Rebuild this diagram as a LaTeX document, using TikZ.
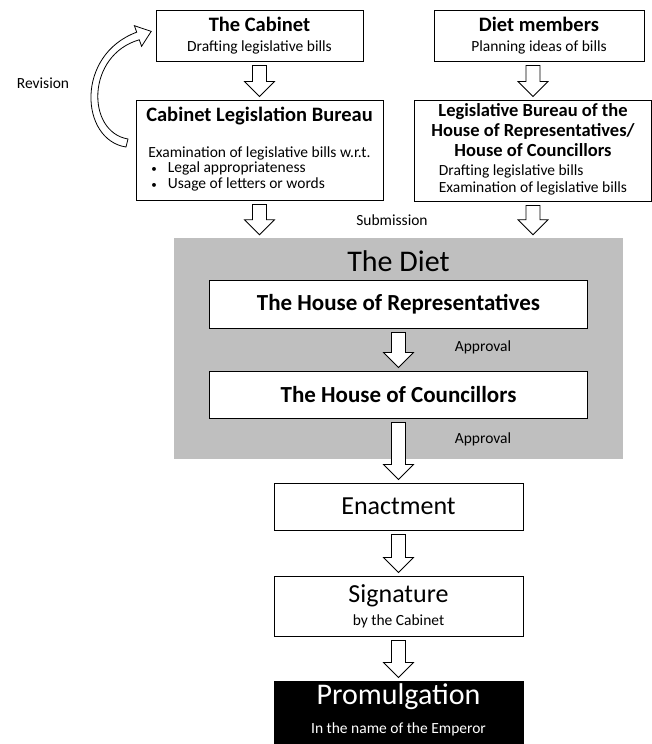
\documentclass[tikz,border=0pt]{standalone}
\usepackage{fontspec}
\setmainfont{Carlito}
\usetikzlibrary{positioning,calc}
\tikzset{
	%Define style for boxes
	box/.style={
		rectangle,
		draw=black, line width=1pt,
		fill=white,
		align=center,
		inner sep=3pt,
		font=\fontsize{15.5}{18}\selectfont},
	dietbox/.style={
		rectangle,
		fill=gray!50,
		minimum width=449pt,
		minimum height=221pt},
	blockarrow/.style={draw=black, line width=0.8pt, fill=white},
	note/.style={font=\fontsize{15.5}{18}\selectfont}
}
\newcommand{\boxtitle}[1]{{\bfseries\fontsize{20.5}{24}\selectfont #1}}
\newcommand{\lbtitle}[1]{{\bfseries\fontsize{18.5}{20}\selectfont #1}}
\newcommand{\smallbullet}{\hspace*{3pt}{\fontsize{11}{12}\selectfont\textbullet}\hspace{11pt}}
% hollow arrow straight down from one box to the next
\newcommand{\flowarrow}[3][0pt]{%
	\draw[blockarrow] let \p1=($(#2.south)+(#1,0)$), \p2=(#3.north) in
		(\x1-7pt,\y1-4pt) -- (\x1-7pt,\y2+18pt) -- (\x1-15pt,\y2+18pt) -- (\x1,\y2+3pt)
		-- (\x1+15pt,\y2+18pt) -- (\x1+7pt,\y2+18pt) -- (\x1+7pt,\y1-4pt) -- cycle;}

\begin{document}
\begin{tikzpicture}[x=1pt,y=-1pt,node distance=38pt]
	\useasboundingbox (0,0) rectangle (651,744);
	\node[box, minimum width=207pt, minimum height=51pt] (cab) at (259.5,35.5)
		{\boxtitle{The Cabinet}\\[2pt] Drafting legislative bills};
	\node[box, minimum width=210pt, minimum height=51pt, right=70pt of cab] (dm)
		{\boxtitle{Diet members}\\[2pt] Planning ideas of bills};
	\node[box, minimum width=247pt, minimum height=100pt, below=of cab] (clb)
		{\boxtitle{Cabinet Legislation Bureau}\\[18pt]
		{\renewcommand{\arraystretch}{0.85}\begin{tabular}[t]{@{}l@{}}
			Examination of legislative bills w.r.t.\\
			\smallbullet Legal appropriateness\\
			\smallbullet Usage of letters or words
		\end{tabular}}};
	\node[box, minimum width=237pt, minimum height=101pt, below=of dm, xshift=-6pt] (lb)
		{\lbtitle{Legislative Bureau of the}\\[2pt]
		\lbtitle{House of Representatives/}\\[2pt]
		\lbtitle{House of Councillors}\\[1pt]
		{\renewcommand{\arraystretch}{0.95}\begin{tabular}[t]{@{}l@{}}
			Drafting legislative bills\\
			Examination of legislative bills
		\end{tabular}}};
	\node[note] (rev) at (43,83) {Revision};
	\node[note] (sub) at (392,220) {Submission};
	% the Diet
	\node[dietbox] (diet) at (398.5,348.5) {};
	\node[font=\fontsize{30}{34}\selectfont] (dietlabel) at (398.5,261) {The Diet};
	\node[box, minimum width=378pt, minimum height=48pt] (hor) at (398.5,304)
		{\bfseries\fontsize{23}{26}\selectfont The House of Representatives};
	\node[box, minimum width=378pt, minimum height=47pt, below=42pt of hor] (hoc)
		{\bfseries\fontsize{23}{26}\selectfont The House of Councillors};
	\node[note] (appr1) at (483,347) {Approval};
	\node[note] (appr2) at (483,439) {Approval};
	% after the Diet
	\node[box, minimum width=249pt, minimum height=47pt, below=64pt of hoc] (enact)
		{\fontsize{26}{30}\selectfont Enactment};
	\node[box, minimum width=249pt, minimum height=60pt, below=45pt of enact] (sig)
		{{\fontsize{26}{30}\selectfont Signature}\\[5pt] by the Cabinet};
	\node[box, fill=black, text=white, minimum width=249pt, minimum height=67pt,
		below=44pt of sig] (prom)
		{{\fontsize{30}{34}\selectfont Promulgation}\\[11pt] In the name of the Emperor\\[-4pt]\mbox{}};
	\flowarrow{cab}{clb}
	\flowarrow[-6pt]{dm}{lb}
	\flowarrow{clb}{diet}
	\flowarrow{lb}{diet}
	\flowarrow{hor}{hoc}
	\flowarrow{hoc}{enact}
	\flowarrow{enact}{sig}
	\flowarrow{sig}{prom}
	% revision arrow back to the Cabinet
	\draw[blockarrow] (126,147) .. controls (80,140) and (75,55) .. (136.7,32.2)
		-- (134.4,25.7) -- (151.2,31.4) -- (141.6,46.3) -- (139.3,39.8)
		.. controls (86,55) and (86,132) .. (128,139) -- cycle;
\end{tikzpicture}
\end{document}
